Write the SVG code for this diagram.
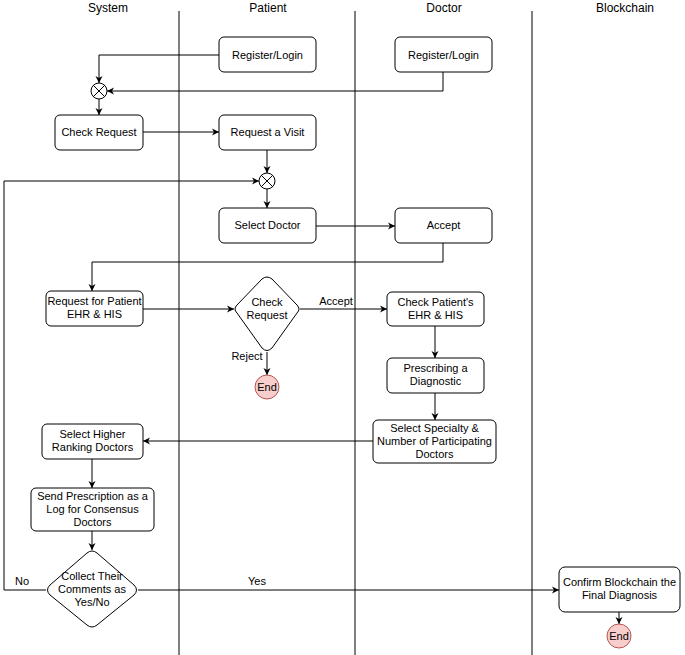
<svg xmlns="http://www.w3.org/2000/svg" width="685" height="655" viewBox="0 0 685 655">
<defs>
<marker id="arr" markerWidth="8" markerHeight="8" refX="7" refY="4" orient="auto" markerUnits="userSpaceOnUse">
<path d="M0,0.5 L7,4 L0,7.5 L2,4 Z" fill="#000"/>
</marker>
</defs>
<style>
text{font-family:"Liberation Sans",Arial,sans-serif;font-size:11px;fill:#000;text-anchor:middle;}
.hdr{font-size:12px;}
.box{fill:#fff;stroke:#000;stroke-width:1;}
.end{fill:#f8cecc;stroke:#b85450;stroke-width:1;}
.lane{stroke:#000;stroke-width:1;}
.c{fill:none;stroke:#000;stroke-width:1;}
.ca{fill:none;stroke:#000;stroke-width:1;marker-end:url(#arr);}
</style>
<rect width="685" height="655" fill="#fff"/>
<g id="lanes">
<line class="lane" x1="179" y1="11" x2="179" y2="655"/>
<line class="lane" x1="355" y1="11" x2="355" y2="655"/>
<line class="lane" x1="532" y1="11" x2="532" y2="655"/>
<text class="hdr" x="108" y="12">System</text>
<text class="hdr" x="268" y="12">Patient</text>
<text class="hdr" x="444" y="12">Doctor</text>
<text class="hdr" x="625" y="12">Blockchain</text>
</g>
<g id="connectors">
<path class="ca" d="M219,55 H99 V83"/>
<path class="ca" d="M443,72 V91 H107"/>
<path class="ca" d="M99,99 V115"/>
<path class="ca" d="M143,132 H219"/>
<path class="ca" d="M267,150 V173"/>
<path class="ca" d="M46,590 H4 V181 H259"/>
<path class="ca" d="M267,189 V208"/>
<path class="ca" d="M316,226 H395"/>
<path class="ca" d="M443,243 V262 H92 V291"/>
<path class="ca" d="M143,309 H234"/>
<path class="ca" d="M300,309 H387"/>
<path class="ca" d="M267,352 V375"/>
<path class="ca" d="M435,326 V358"/>
<path class="ca" d="M435,393 V420"/>
<path class="ca" d="M373,441 H143"/>
<path class="ca" d="M92,459 V488"/>
<path class="ca" d="M92,531 V550"/>
<path class="ca" d="M138,590 H559"/>
<path class="ca" d="M619,612 V624"/>
<text x="336" y="305">Accept</text>
<text x="247" y="360">Reject</text>
<text x="22" y="585">No</text>
<text x="257" y="585">Yes</text>
</g>
<g id="patient-register">
<rect class="box" x="219" y="37" width="97" height="35" rx="5"/>
<text x="267.5" y="59">Register/Login</text>
</g>
<g id="doctor-register">
<rect class="box" x="395" y="37" width="97" height="35" rx="5"/>
<text x="443.5" y="59">Register/Login</text>
</g>
<g id="merge1">
<circle class="box" cx="99" cy="91" r="8"/>
<path class="c" d="M93.3,85.3 L104.7,96.7 M104.7,85.3 L93.3,96.7"/>
</g>
<g id="check-request-box">
<rect class="box" x="55" y="115" width="88" height="35" rx="5"/>
<text x="99" y="136">Check Request</text>
</g>
<g id="request-visit">
<rect class="box" x="219" y="115" width="97" height="35" rx="5"/>
<text x="267.5" y="136">Request a Visit</text>
</g>
<g id="merge2">
<circle class="box" cx="267" cy="181" r="8"/>
<path class="c" d="M261.3,175.3 L272.7,186.7 M272.7,175.3 L261.3,186.7"/>
</g>
<g id="select-doctor">
<rect class="box" x="219" y="208" width="97" height="35" rx="5"/>
<text x="267.5" y="229">Select Doctor</text>
</g>
<g id="accept">
<rect class="box" x="395" y="208" width="97" height="35" rx="5"/>
<text x="443.5" y="229">Accept</text>
</g>
<g id="request-ehr">
<rect class="box" x="46" y="291" width="97" height="35" rx="5"/>
<text x="94.5" y="305">Request for Patient</text>
<text x="94.5" y="318">EHR &amp; HIS</text>
</g>
<g id="check-request-diamond">
<path class="box" d="M262,279 Q267,275 272,279 L297,305 Q301,309 297,313 L272,348 Q267,353 262,348 L237,313 Q233,309 237,305 Z"/>
<text x="267" y="306">Check</text>
<text x="267" y="319">Request</text>
</g>
<g id="end1">
<circle class="end" cx="267" cy="387" r="12"/>
<text x="267" y="391">End</text>
</g>
<g id="check-ehr">
<rect class="box" x="387" y="292" width="97" height="34" rx="5"/>
<text x="435.5" y="306">Check Patient's</text>
<text x="435.5" y="319">EHR &amp; HIS</text>
</g>
<g id="prescribing">
<rect class="box" x="387" y="358" width="97" height="35" rx="5"/>
<text x="435.5" y="372">Prescribing a</text>
<text x="435.5" y="385">Diagnostic</text>
</g>
<g id="select-specialty">
<rect class="box" x="373" y="420" width="123" height="43" rx="5"/>
<text x="434.5" y="432">Select Specialty &amp;</text>
<text x="434.5" y="445">Number of Participating</text>
<text x="434.5" y="458">Doctors</text>
</g>
<g id="select-higher">
<rect class="box" x="42" y="424" width="101" height="35" rx="5"/>
<text x="92.5" y="438">Select Higher</text>
<text x="92.5" y="451">Ranking Doctors</text>
</g>
<g id="send-prescription">
<rect class="box" x="31" y="488" width="123" height="43" rx="5"/>
<text x="92.5" y="500">Send Prescription as a</text>
<text x="92.5" y="513">Log for Consensus</text>
<text x="92.5" y="526">Doctors</text>
</g>
<g id="collect">
<path class="box" d="M87,553 Q92,549 97,553 L134,585 Q139,590 134,595 L97,625 Q92,629 87,625 L50,595 Q45,590 50,585 Z"/>
<text x="92" y="580">Collect Their</text>
<text x="92" y="593">Comments as</text>
<text x="92" y="606">Yes/No</text>
</g>
<g id="confirm">
<rect class="box" x="559" y="567" width="121" height="45" rx="6"/>
<text x="619.5" y="586">Confirm Blockchain the</text>
<text x="619.5" y="599">Final Diagnosis</text>
</g>
<g id="end2">
<circle class="end" cx="619" cy="636" r="12"/>
<text x="619" y="640">End</text>
</g>
</svg>
